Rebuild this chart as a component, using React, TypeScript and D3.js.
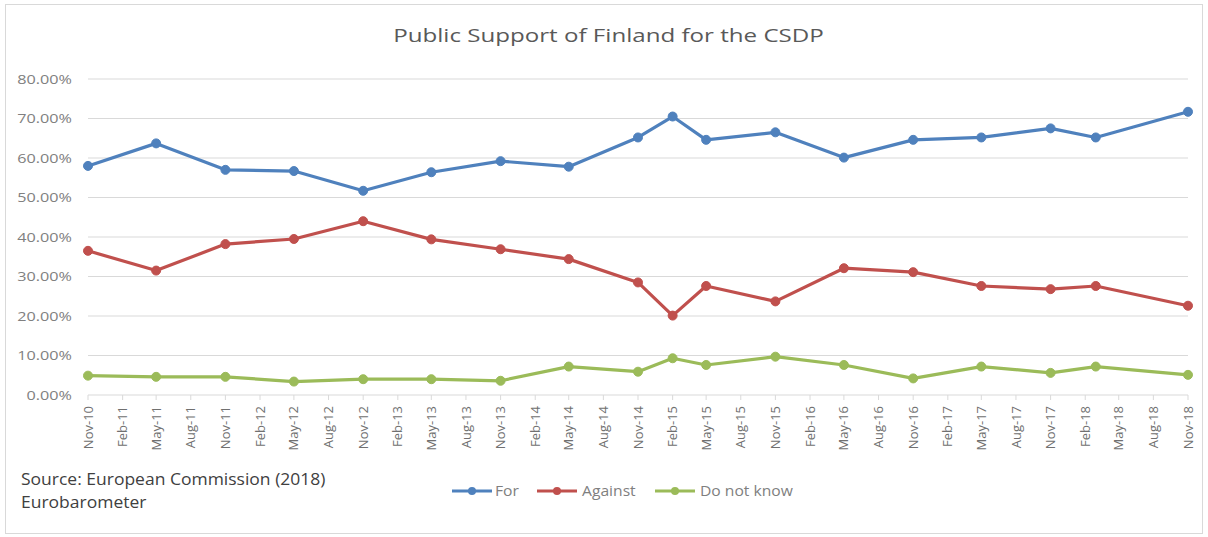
import React from "react";
import * as d3 from "d3";

const surveyDates = ["Nov-10","May-11","Nov-11","May-12","Nov-12","May-13","Nov-13","May-14","Nov-14","Feb-15","May-15","Nov-15","May-16","Nov-16","May-17","Nov-17","Mar-18","Nov-18"];
const forValues = [0.580,0.637,0.570,0.567,0.517,0.564,0.592,0.578,0.652,0.705,0.646,0.665,0.601,0.646,0.652,0.675,0.652,0.717];
const againstValues = [0.365,0.315,0.382,0.395,0.440,0.394,0.369,0.344,0.285,0.201,0.276,0.237,0.321,0.311,0.276,0.268,0.276,0.226];
const dontKnowValues = [0.049,0.046,0.046,0.034,0.040,0.040,0.036,0.072,0.059,0.093,0.076,0.097,0.076,0.042,0.072,0.056,0.072,0.051];
const tickLabels = ["Nov-10","Feb-11","May-11","Aug-11","Nov-11","Feb-12","May-12","Aug-12","Nov-12","Feb-13","May-13","Aug-13","Nov-13","Feb-14","May-14","Aug-14","Nov-14","Feb-15","May-15","Aug-15","Nov-15","Feb-16","May-16","Aug-16","Nov-16","Feb-17","May-17","Aug-17","Nov-17","Feb-18","May-18","Aug-18","Nov-18"];
const yTicks = [0,0.1,0.2,0.3,0.4,0.5,0.6,0.7,0.8];
const seriesNames = ["For","Against","Do not know"];
const seriesColors = ["#4F81BD","#C0504D","#9BBB59"];

const W = 1208, H = 537;
const FONT = "'Open Sans', 'Noto Sans', sans-serif";

export default function App() {
  const parse = d3.timeParse("%b-%y");
  const x = d3.scaleTime()
    .domain([parse(tickLabels[0]) as Date, parse(tickLabels[tickLabels.length - 1]) as Date])
    .range([88, 1188]);
  const y = d3.scaleLinear().domain([0, 0.8]).range([395, 79]);
  const fmt = d3.format(".2%");
  const seriesValues = [forValues, againstValues, dontKnowValues];
  const line = d3.line<[Date, number]>().x(d => x(d[0])).y(d => y(d[1]));
  const dates = surveyDates.map(s => parse(s) as Date);

  const legendItems = [
    { lx: 452, tx: 495 },
    { lx: 537, tx: 582 },
    { lx: 655, tx: 700 },
  ];
  const legendY = 491;

  return (
    <svg width={W} height={H} style={{ position: "absolute", left: 0, top: 0, background: "#fff" }} fontFamily={FONT}>
      <rect x={0} y={0} width={W} height={H} fill="#fff" />
      <rect x={5.5} y={4.5} width={1197} height={529} fill="none" stroke="#d9d9d9" strokeWidth={1} />
      <text transform="translate(608.5,42) scale(1.27,1)" textAnchor="middle" fontSize={19} fill="#595959">Public Support of Finland for the CSDP</text>

      {yTicks.map(t => (
        <g key={t}>
          {t > 0 && <line x1={88} x2={1188} y1={y(t)} y2={y(t)} stroke="#d9d9d9" strokeWidth={1} />}
          <text transform={`translate(72,${y(t)}) scale(1.2,1)`} dy="0.35em" textAnchor="end" fontSize={13.5} fill="#808080">{fmt(t)}</text>
        </g>
      ))}
      <line x1={88} x2={1188} y1={y(0)} y2={y(0)} stroke="#d9d9d9" strokeWidth={1} />
      {tickLabels.map(l => {
        const px = x(parse(l) as Date);
        return (
          <g key={l}>
            <line x1={px} x2={px} y1={y(0)} y2={y(0) + 5} stroke="#d9d9d9" strokeWidth={1} />
            <text transform={`translate(${px},${y(0) + 11}) rotate(-90)`} dy="0.35em" textAnchor="end" fontSize={13} fill="#707070">{l}</text>
          </g>
        );
      })}

      {seriesValues.map((vals, i) => {
        const pts: [Date, number][] = dates.map((d, j) => [d, vals[j]]);
        return (
          <g key={seriesNames[i]}>
            <path d={line(pts) || ""} fill="none" stroke={seriesColors[i]} strokeWidth={3.2} strokeLinejoin="round" />
            {pts.map((p, j) => (
              <circle key={j} cx={x(p[0])} cy={y(p[1])} r={4.5} fill={seriesColors[i]} stroke={seriesColors[i]} strokeWidth={1} />
            ))}
          </g>
        );
      })}

      <text transform="translate(21,485) scale(1.06,1)" fontSize={16.5} fill="#404040">Source: European Commission (2018)</text>
      <text transform="translate(21,508) scale(1.06,1)" fontSize={16.5} fill="#404040">Eurobarometer</text>

      {seriesNames.map((n, i) => (
        <g key={n}>
          <line x1={legendItems[i].lx} x2={legendItems[i].lx + 40} y1={legendY} y2={legendY} stroke={seriesColors[i]} strokeWidth={3} />
          <circle cx={legendItems[i].lx + 20} cy={legendY} r={4} fill={seriesColors[i]} />
          <text transform={`translate(${legendItems[i].tx},${legendY}) scale(1.08,1)`} dy="0.35em" fontSize={14.5} fill="#7f7f7f">{n}</text>
        </g>
      ))}
    </svg>
  );
}
